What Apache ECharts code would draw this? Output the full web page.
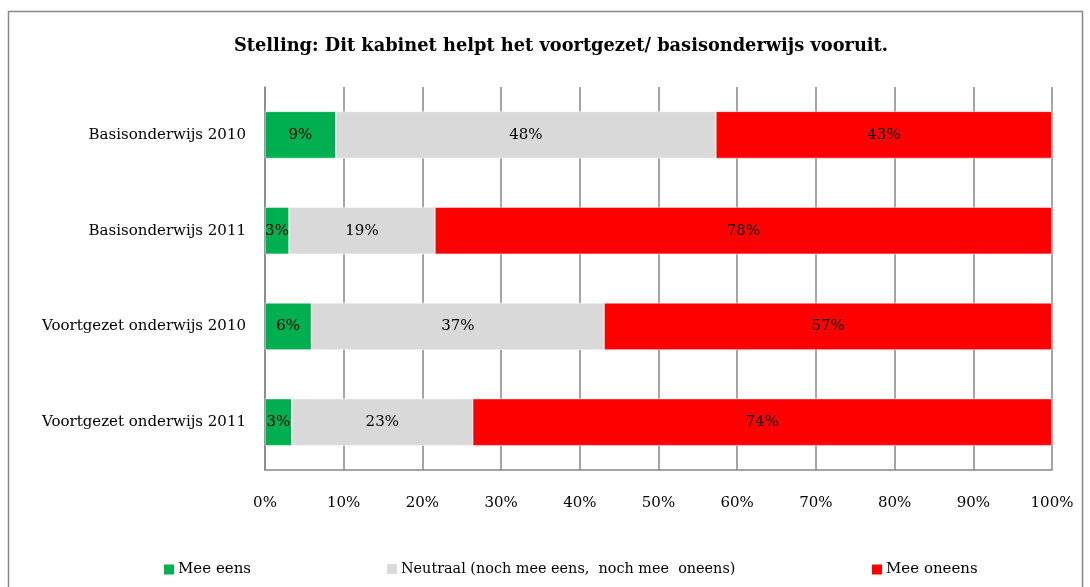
<!DOCTYPE html>
<html>
<head>
<meta charset="utf-8">
<script src="https://cdn.jsdelivr.net/npm/echarts@6/dist/echarts.min.js"></script>
<style>
  html, body { margin: 0; padding: 0; background: #fff; }
  #chart { width: 1090px; height: 587px; }
</style>
</head>
<body>
<div id="chart"></div>
<script>
// categories from top to bottom
const categories = ['Basisonderwijs 2010', 'Basisonderwijs 2011', 'Voortgezet onderwijs 2010', 'Voortgezet onderwijs 2011'];
const seriesNames = ['Mee eens', 'Neutraal (noch mee eens,  noch mee  oneens)', 'Mee oneens'];
const meeEens = [9.0, 3.05, 5.9, 3.4];
const neutraal = [48.3, 18.55, 37.2, 23.0];
const meeOneens = [42.7, 78.4, 56.9, 73.6];
const xTicks = [0, 10, 20, 30, 40, 50, 60, 70, 80, 90, 100];

const font = 'DejaVu Serif';
const colors = ['#00b050', '#d9d9d9', '#ff0000'];

let myChart = echarts.init(document.getElementById('chart'));

function bar(name, data, color) {
  return {
    name: name,
    type: 'bar',
    stack: 'total',
    data: data,
    barWidth: 47,
    itemStyle: { color: color, borderColor: '#fff', borderWidth: 0.5 },
    label: {
      show: true,
      position: 'inside',
      color: '#000',
      fontFamily: font,
      fontSize: 15,
      formatter: p => Math.round(p.value) + '%'
    }
  };
}

function legendAt(name, left, size) {
  return {
    data: [name],
    left: left,
    top: 557,
    itemWidth: 12,
    itemHeight: 12,
    icon: 'rect',
    itemGap: 4,
    textStyle: { fontFamily: font, fontSize: size, color: '#000', padding: [0, 0, 0, -2] }
  };
}

myChart.setOption({
  animation: false,
  graphic: [{
    type: 'rect',
    shape: { x: 8.5, y: 11.5, width: 1074, height: 600 },
    style: { fill: 'none', stroke: '#878787', lineWidth: 1.5 }
  }],
  title: {
    text: 'Stelling: Dit kabinet helpt het voortgezet/ basisonderwijs vooruit.',
    left: 229,
    top: 32,
    textStyle: { fontFamily: font, fontSize: 17.8, fontWeight: 'bold', color: '#000' }
  },
  legend: [
    legendAt(seriesNames[0], 157, 15),
    legendAt(seriesNames[1], 380, 14.4),
    legendAt(seriesNames[2], 865, 15)
  ],
  grid: { left: 265, right: 38, top: 87, bottom: 117 },
  xAxis: {
    type: 'value',
    min: 0,
    max: 100,
    interval: 10,
    axisLine: { show: true, lineStyle: { color: '#878787', width: 1.5 } },
    axisTick: { show: false },
    splitLine: { show: true, lineStyle: { color: '#878787', width: 1.5 } },
    axisLabel: {
      margin: 26,
      fontFamily: font,
      fontSize: 15,
      color: '#000',
      formatter: v => xTicks.indexOf(v) >= 0 ? v + '%' : ''
    }
  },
  yAxis: {
    type: 'category',
    inverse: true,
    data: categories,
    axisLine: { show: true, lineStyle: { color: '#878787', width: 1.5 } },
    axisTick: { show: false },
    axisLabel: { margin: 19, fontFamily: font, fontSize: 15, color: '#000' }
  },
  series: [
    bar(seriesNames[0], meeEens, colors[0]),
    bar(seriesNames[1], neutraal, colors[1]),
    bar(seriesNames[2], meeOneens, colors[2])
  ]
});
</script>
</body>
</html>
